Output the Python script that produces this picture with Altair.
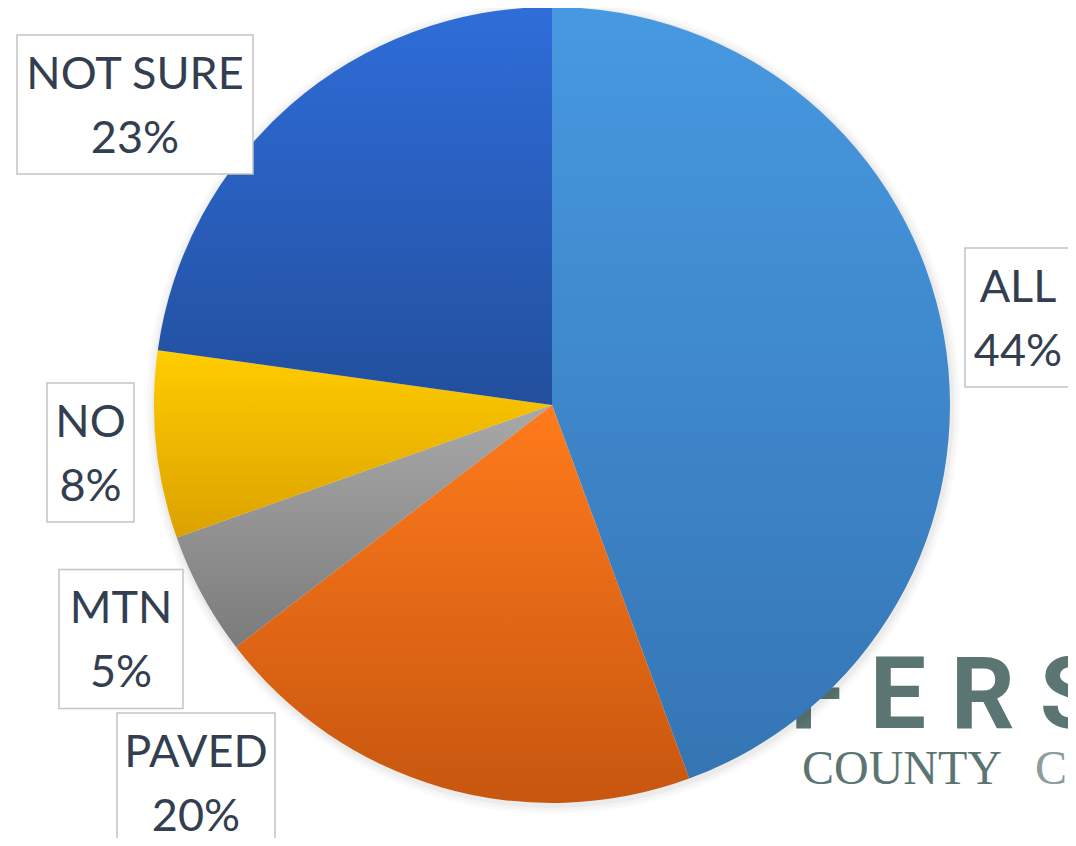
import altair as alt
import pandas as pd

# ---- data ----
CATEGORIES = ["ALL", "PAVED", "MTN", "NO", "NOT SURE"]
SHARES = [44.4, 20.2, 5.0, 7.6, 22.8]

# ---- styles / layout (not data) ----
GRADIENTS = {
    "ALL": ("#4799e1", "#3575b4"),
    "PAVED": ("#ff7b1c", "#c7560f"),
    "MTN": ("#a9a9a9", "#7b7b7b"),
    "NO": ("#ffcd00", "#dca100"),
    "NOT SURE": ("#2f6dd9", "#224f9d"),
}
LABEL_BOX = {  # centre x, centre y, box width (chart pixels)
    "ALL": (1010, 309.5, 106),
    "PAVED": (188, 774.5, 158),
    "MTN": (113, 631, 124),
    "NO": (82.5, 444.5, 87),
    "NOT SURE": (127, 96.5, 236),
}
BOX_H = 139
W, H = 1060, 830
CX, CY, R = 544, 397, 398
TEXT_COLOR = "#333f50"
FONT = "Lato"

# ---- tables ----
df = pd.DataFrame({"cat": CATEGORIES, "share": SHARES})
df["end"] = df["share"].cumsum()
df["start"] = df["end"] - df["share"]

lab = df.copy()
lab["label"] = [f"{c}\n{round(v)}%" for c, v in zip(lab["cat"], lab["share"])]
lab["cx"] = [LABEL_BOX[c][0] for c in lab["cat"]]
lab["cy"] = [LABEL_BOX[c][1] for c in lab["cat"]]
lab["x0"] = [LABEL_BOX[c][0] - LABEL_BOX[c][2] / 2 for c in lab["cat"]]
lab["x1"] = [LABEL_BOX[c][0] + LABEL_BOX[c][2] / 2 for c in lab["cat"]]
lab["y0"] = lab["cy"] - BOX_H / 2
lab["y1"] = lab["cy"] + BOX_H / 2
lab["ty"] = lab["cy"] - 30

theta_scale = alt.Scale(domain=[0, 100], range=[0, 6.283185307179586])
one = pd.DataFrame({"k": [0]})

# ---- background logo watermark ----
logo_big = alt.Chart(pd.DataFrame({"t": ["F E R S O N"]})).mark_text(
    font="Roboto", fontWeight="bold", fontSize=100, color="#5b7672",
    align="left", baseline="alphabetic"
).encode(x=alt.value(782), y=alt.value(720), text="t:N")

logo_small = alt.Chart(pd.DataFrame({"t": ["COUNTY"]})).mark_text(
    font="Liberation Serif", fontSize=48, color="#5b7672",
    align="left", baseline="alphabetic"
).encode(x=alt.value(794), y=alt.value(776), text="t:N")

logo_small2 = alt.Chart(pd.DataFrame({"t": ["COLORADO"]})).mark_text(
    font="Liberation Serif", fontSize=48, color="#8e9c9a",
    align="left", baseline="alphabetic"
).encode(x=alt.value(1027), y=alt.value(776), text="t:N")

# ---- soft shadow halo ----
shadows = [
    alt.Chart(one).mark_arc(
        color="#000000", opacity=op, outerRadius=R + dr, theta=0, theta2=6.2832
    ).encode(x=alt.value(CX + 1), y=alt.value(CY + 2))
    for dr, op in [(9, 0.018), (6, 0.025), (3, 0.035)]
]

# ---- slices ----
slices = []
for c in CATEGORIES:
    top, bot = GRADIENTS[c]
    grad = {
        "gradient": "linear", "x1": 0, "y1": 0, "x2": 0, "y2": 1,
        "stops": [{"offset": 0, "color": top}, {"offset": 1, "color": bot}],
    }
    slices.append(
        alt.Chart(df).transform_filter(alt.datum.cat == c).mark_arc(
            fill=grad, outerRadius=R
        ).encode(
            theta=alt.Theta("start:Q", scale=theta_scale),
            theta2="end:Q",
            x=alt.value(CX), y=alt.value(CY),
        )
    )

# ---- label boxes & text ----
boxes = alt.Chart(lab).mark_rect(
    fill="white", stroke="#c4c4c4", strokeWidth=1.5
).encode(
    x=alt.X("x0:Q", scale=None, axis=None), x2="x1:Q",
    y=alt.Y("y0:Q", scale=None, axis=None), y2="y1:Q",
)

texts = alt.Chart(lab).mark_text(
    font=FONT, fontSize=45, color=TEXT_COLOR, lineBreak="\n", lineHeight=64,
    align="center", baseline="middle"
).encode(
    x=alt.X("cx:Q", scale=None, axis=None),
    y=alt.Y("ty:Q", scale=None, axis=None),
    text="label:N",
)

chart = alt.layer(
    logo_big, logo_small, logo_small2, *shadows, *slices, boxes, texts
).properties(
    width=W, height=H, padding=0, background="white",
    autosize=alt.AutoSizeParams(type="none"),
).configure_view(stroke=None)

chart.save("out.html", embed_options={"renderer": "svg", "actions": False})
